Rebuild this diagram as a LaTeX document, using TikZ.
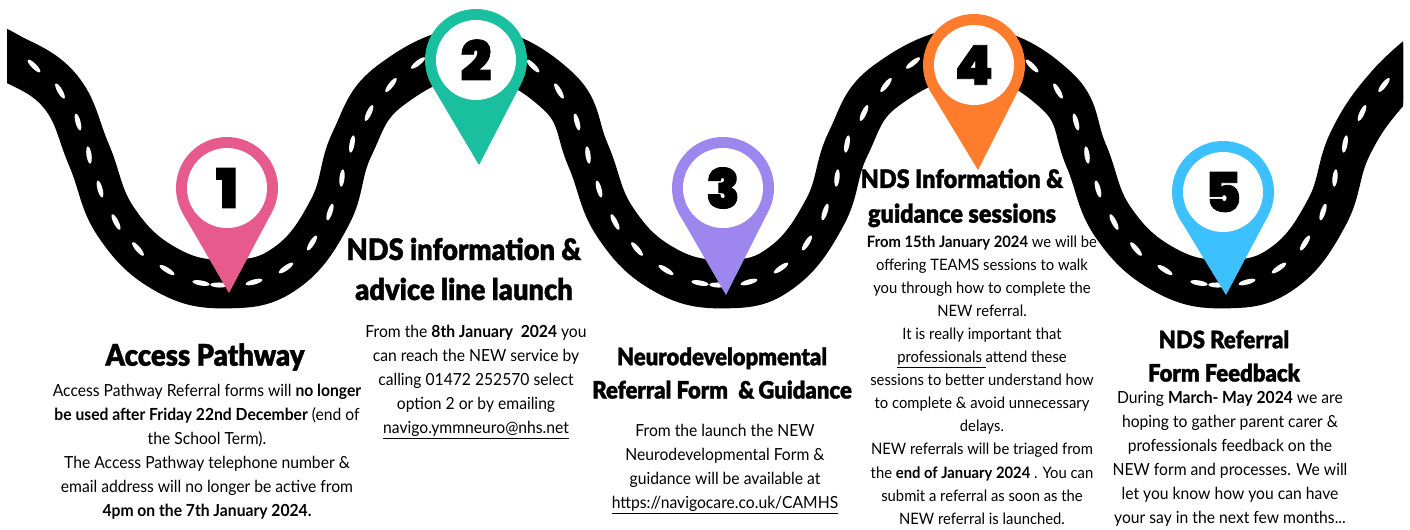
\documentclass[tikz,border=0pt]{standalone}
\usepackage{fontspec}
\setmainfont[FakeStretch=0.94]{Lato}
\newfontfamily\titlefont[FakeBold=1.2,FakeStretch=0.92]{Lato Black}
\newfontfamily\numfont[FakeBold=1.5]{Poppins Black}
\definecolor{pinA}{HTML}{E75A8C}
\definecolor{pinB}{HTML}{19BF9F}
\definecolor{pinC}{HTML}{9D86EE}
\definecolor{pinD}{HTML}{FE7C2B}
\definecolor{pinE}{HTML}{3CC1FE}
\newcommand{\bodyfont}{\fontsize{12.5}{18}\selectfont}
\newcommand{\bodytight}{\fontsize{11.8}{17.3}\selectfont}
\tikzset{
  roadline/.style={draw=black,line width=32pt,line join=round},
  lane/.style={fill=white,draw=none},
  numlabel/.style={font=\numfont\fontsize{41}{41}\selectfont,inner sep=0pt,text=black},
  bodytext/.style={align=center,inner sep=0pt,font=\bodyfont},
  titletext/.style 2 args={align=center,inner sep=0pt,font=\titlefont\fontsize{#1}{#2}\selectfont},
}
\newcommand{\mappin}[6]{%
  \fill[#5] (#1,#2) circle [radius=51];
  \fill[#5] (#1-44.6,#2+24.7) -- (#3,#4) -- (#1+44.6,#2+24.7) -- cycle;
  \fill[white] (#1,#2) circle [radius=40];
  \node[numlabel] (pin#6) at (#1,#2) {#6};
}
\begin{document}
\begin{tikzpicture}[x=0.75pt,y=-0.75pt]
\useasboundingbox (0,0) rectangle (1410,529);
\fill[white] (0,0) rectangle (1410,529);
\begin{scope}
\clip (7,0) rectangle (1403,529);
\foreach \d in {-3,0,3}{
\draw[roadline,shift={(0,\d)}] plot[smooth,tension=0.72] coordinates {
 (-25,42) (7,56) (60,91) (89,155) (116,222) (167,270) (228,284)
 (286,268) (330,212) (352,144) (391,85) (476,52)
 (558,91) (588,155) (615,222) (665,270) (726,284)
 (781,268) (825,212) (848,144) (887,85) (975,52)
 (1057,91) (1086,155) (1113,222) (1165,270) (1226,284)
 (1283,268) (1327,212) (1350,144) (1388,88) (1435,46)};
}
\foreach \o in {0,499,998}{
 \foreach \x/\y/\a in {34/66/-45,60/91/-60,78/122/-75,89/155/-82,100/189/-75,116/222/-63,138/249/-50,167/270/-32,201/283/-10,219/285/-2}
  \fill[lane] (\x+\o,\y) ellipse [x radius=6.5pt,y radius=1.9pt,rotate=\a];
}
\foreach \o in {0,495,993}{
 \foreach \x/\y/\a in {254/282/15,286/268/35,312/243/58,330/212/72,342/178/84,352/144/80,369/113/65,391/85/52,418/63/38}
  \fill[lane] (\x+\o,\y) ellipse [x radius=6.5pt,y radius=1.9pt,rotate=\a];
}
\end{scope}
\mappin{227}{188}{229}{293}{pinA}{1}
\mappin{476}{60}{479}{165}{pinB}{2}
\mappin{723}{188}{726}{295}{pinC}{3}
\mappin{974}{65}{978}{170}{pinD}{4}
\mappin{1223}{192}{1226}{295}{pinE}{5}

\node[titletext={22.4}{30}] (t1) at (205,357) {Access Pathway};
\node[bodytext] (b1) at (207,452) {Access Pathway Referral forms will \textbf{no longer}\\
\textbf{be used after Friday 22nd December} (end of\\
the School Term).\\
The Access Pathway telephone number \&\\
email address will no longer be active from\\
\textbf{4pm on the 7th January 2024.}};

\node[titletext={22.2}{30}] (t2) at (464,269) {NDS information \&\\advice line launch};
\node[bodytext] (b2) at (476,382) {From the \textbf{8th January\ \ 2024} you\\
can reach the NEW service by\\
calling 01472 252570 select\\
option 2 or by emailing\\
\underline{navigo.ymmneuro@nhs.net}};

\node[titletext={18}{25}] (t3) at (722,373) {Neurodevelopmental\\Referral Form \ \&\,Guidance};
\node[bodytext] (b3) at (725,469) {From the launch the NEW\\
Neurodevelopmental Form \&\\
guidance will be available at\\
\underline{https://navigocare.co.uk/CAMHS}};

\node[titletext={19.1}{26}] (t4) at (962,198) {NDS Information \&\\guidance sessions};
\node[inner sep=0pt,align=center,font=\bodytight] (b4) at (982,380) {\textbf{From 15th January 2024} we will be\\
offering TEAMS sessions to walk\\
you through how to complete the\\
NEW referral.\\
It is really important that\\
\underline{professionals }attend these\\
sessions to better understand how\\
to complete \& avoid unnecessary\\
delays.\\
NEW referrals will be triaged from\\
the \textbf{end of January 2024} . You can\\
submit a referral as soon as the\\
NEW referral is launched.};

\node[titletext={18}{25}] (t5) at (1224,356) {NDS Referral\\Form Feedback};
\node[bodytext] (b5) at (1230,459) {During \textbf{March- May 2024} we are\\
hoping to gather parent carer \&\\
professionals feedback on the\\
NEW form and processes. We will\\
let you know how you can have\\
your say in the next few months...};
\end{tikzpicture}
\end{document}
